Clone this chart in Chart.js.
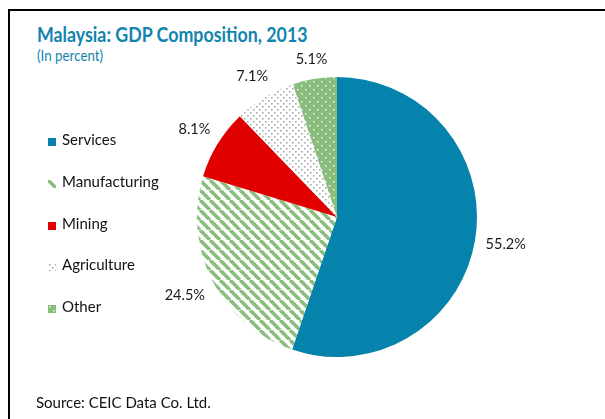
<!DOCTYPE html>
<html>
<head>
<meta charset="utf-8">
<script src="https://cdn.jsdelivr.net/npm/chart.js@4.4.1/dist/chart.umd.min.js"></script>
<style>
	html, body {
		margin: 0;
		padding: 0;
		background: #fff;
	}
	#wrap {
		position: relative;
		width: 605px;
		height: 419px;
		overflow: hidden;
		font-family: Lato, "Open Sans", sans-serif;
	}
	#frame {
		position: absolute;
		left: 8px;
		top: 9px;
		width: 640px;
		height: 460px;
		border-left: 2px solid #000;
		border-top: 2px solid #000;
	}
	#title {
		position: absolute;
		left: 37px;
		top: 22px;
		font-size: 20px;
		font-weight: bold;
		color: #1284ae;
		white-space: nowrap;
		transform: scaleX(0.89);
		transform-origin: left top;
	}
	#subtitle {
		position: absolute;
		left: 37px;
		top: 47px;
		font-size: 14.5px;
		color: #1284ae;
		transform: scaleX(0.92);
		transform-origin: left top;
	}
	#source {
		position: absolute;
		left: 36px;
		top: 393px;
		font-size: 15px;
		color: #111;
		white-space: nowrap;
	}
	#legend {
		position: absolute;
		left: 48px;
		top: 131px;
	}
	.item {
		height: 41.8px;
		display: flex;
		align-items: flex-start;
		font-size: 15px;
		color: #111;
	}
	.item canvas {
		width: 8px;
		height: 8px;
		margin: 7px 6px 0 0;
	}
	#pie {
		position: absolute;
		left: 0;
		top: 0;
	}
</style>
</head>
<body>
<div id="wrap">
	<div id="frame"></div>
	<div id="title">Malaysia: GDP Composition, 2013</div>
	<div id="subtitle">(In percent)</div>
	<div id="legend"></div>
	<canvas id="pie" width="605" height="419"></canvas>
	<div id="source">Source: CEIC Data Co. Ltd.</div>
</div>
<script>
	const sectors = ["Services", "Manufacturing", "Mining", "Agriculture", "Other"];
	const shares = [55.2, 24.5, 8.1, 7.1, 5.1];
	const fills = ["solid", "stripes", "solid", "greyDots", "greenDots"];

	const BLUE = "#0683ad";
	const GREEN = "#88bd7b";
	const RED = "#e00000";

	// small repeating tiles for the hatched slices
	function makeTile(kind) {
		const c = document.createElement("canvas");
		const g = c.getContext("2d");
		if (kind === "stripes") {
			c.width = 10;
			c.height = 10;
			g.fillStyle = "#fff";
			g.fillRect(0, 0, 10, 10);
			g.strokeStyle = GREEN;
			g.lineWidth = 3.6;
			for (let k = -10; k <= 20; k += 10) {
				g.beginPath();
				g.moveTo(k, 0);
				g.lineTo(k + 10, 10);
				g.stroke();
			}
		} else if (kind === "greyDots") {
			c.width = 6;
			c.height = 6;
			g.fillStyle = "#fff";
			g.fillRect(0, 0, 6, 6);
			g.fillStyle = "#aaaaaa";
			g.fillRect(1, 1, 1.6, 1.6);
			g.fillRect(4, 4, 1.6, 1.6);
		} else if (kind === "greenDots") {
			c.width = 8;
			c.height = 8;
			g.fillStyle = GREEN;
			g.fillRect(0, 0, 8, 8);
			g.fillStyle = "#f4f8f2";
			g.fillRect(1, 1, 1.5, 1.5);
			g.fillRect(5, 5, 1.5, 1.5);
		}
		return c;
	}

	const solidColors = [BLUE, null, RED, null, null];
	const ctx = document.getElementById("pie").getContext("2d");
	const backgrounds = fills.map((f, i) =>
		f === "solid" ? solidColors[i] : ctx.createPattern(makeTile(f), "repeat")
	);

	// legend on the left
	const legend = document.getElementById("legend");
	sectors.forEach((name, i) => {
		const row = document.createElement("div");
		row.className = "item";
		const sw = document.createElement("canvas");
		sw.width = 8;
		sw.height = 8;
		const sg = sw.getContext("2d");
		if (fills[i] === "solid") {
			sg.fillStyle = solidColors[i];
		} else {
			sg.fillStyle = sg.createPattern(makeTile(fills[i]), "repeat");
		}
		sg.fillRect(0, 0, 8, 8);
		const label = document.createElement("span");
		label.textContent = name;
		label.style.lineHeight = "20px";
		label.style.marginTop = "-2px";
		row.appendChild(sw);
		row.appendChild(label);
		legend.appendChild(row);
	});

	// percent labels just outside each slice
	const outsideLabels = {
		id: "outsideLabels",
		afterDatasetsDraw(chart) {
			const g = chart.ctx;
			const arcs = chart.getDatasetMeta(0).data;
			g.save();
			g.font = "14.5px Lato, 'Open Sans', sans-serif";
			g.fillStyle = "#1a1a1a";
			g.textAlign = "center";
			g.textBaseline = "middle";
			arcs.forEach((arc, i) => {
				const text = shares[i].toFixed(1) + "%";
				const w = g.measureText(text).width;
				const h = 14;
				const mid = (arc.startAngle + arc.endAngle) / 2;
				const cx = Math.cos(mid);
				const cy = Math.sin(mid);
				const d = arc.outerRadius + 10 + Math.abs(cx) * w / 2 + Math.abs(cy) * h / 2;
				g.fillText(text, arc.x + cx * d, arc.y + cy * d);
			});
			g.restore();
		}
	};

	new Chart(ctx, {
		type: "pie",
		data: {
			labels: sectors,
			datasets: [
				{
					data: shares,
					backgroundColor: backgrounds,
					borderWidth: 0,
				},
			],
		},
		options: {
			responsive: false,
			animation: false,
			layout: {
				padding: { left: 197, right: 128, top: 77, bottom: 62 },
			},
			plugins: {
				legend: { display: false },
				tooltip: { enabled: false },
			},
		},
		plugins: [outsideLabels],
	});
</script>
</body>
</html>
